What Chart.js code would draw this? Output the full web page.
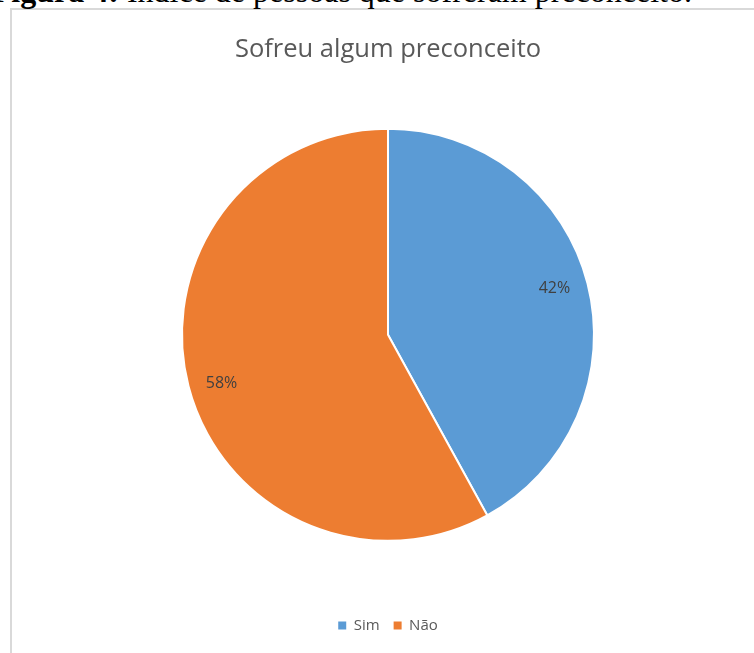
<!DOCTYPE html>
<html>
<head>
<meta charset="utf-8">
<script src="https://cdn.jsdelivr.net/npm/chart.js@4"></script>
<style>
  html, body { margin: 0; padding: 0; background: #fff; overflow: hidden; width: 754px; height: 653px; }
  #caption {
    position: absolute; right: 62px; top: -25px; white-space: nowrap; line-height: 32px;
    font-family: "Liberation Serif", "DejaVu Serif", serif; font-size: 32px; color: #000;
  }
  #frame {
    position: absolute; left: 10px; top: 8px; width: 760px; height: 660px;
    border-left: 2px solid #d9d9d9; border-top: 2px solid #d9d9d9; background: #fff;
  }
  #wrap { position: absolute; left: 12px; top: 10px; width: 752px; height: 643px; }
</style>
</head>
<body>
<div id="frame"></div>
<div id="caption"><b>Figura 4:</b> Índice de pessoas que sofreram preconceito.</div>
<div id="wrap"><canvas id="pieChart"></canvas></div>
<script>
// Chart data
const categories = ['Sim', 'Não'];
const shares = [42, 58];
const sliceColors = ['#5b9bd5', '#ed7d31'];
const chartTitle = 'Sofreu algum preconceito';

const fontFamily = '"Open Sans", Calibri, sans-serif';

// Draws the percentage labels inside each slice
const sliceLabels = {
    id: 'sliceLabels',
    afterDatasetsDraw(chart) {
        const ctx = chart.ctx;
        const meta = chart.getDatasetMeta(0);
        ctx.save();
        ctx.font = '16px ' + fontFamily;
        ctx.fillStyle = '#404040';
        ctx.textAlign = 'center';
        ctx.textBaseline = 'middle';
        meta.data.forEach((arc, i) => {
            const p = arc.getProps(['x', 'y', 'startAngle', 'endAngle', 'outerRadius'], true);
            const mid = (p.startAngle + p.endAngle) / 2 - 0.025;
            const r = p.outerRadius * 0.84;
            ctx.fillText(shares[i] + '%', p.x + Math.cos(mid) * r, p.y + Math.sin(mid) * r + 1);
        });
        ctx.restore();
    }
};

document.addEventListener('DOMContentLoaded', function() {
    new Chart(document.getElementById('pieChart'), {
        type: 'pie',
        data: {
            labels: categories,
            datasets: [{
                data: shares,
                backgroundColor: sliceColors,
                borderColor: '#ffffff',
                borderWidth: 2,
                radius: 206
            }]
        },
        options: {
            responsive: true,
            maintainAspectRatio: false,
            animation: false,
            layout: { padding: { top: 0, bottom: 10, left: 0, right: 0 } },
            plugins: {
                title: {
                    display: true,
                    text: chartTitle,
                    color: '#595959',
                    font: { size: 25.5, family: fontFamily, weight: 'normal' },
                    padding: { top: 24, bottom: 1 }
                },
                legend: {
                    position: 'bottom',
                    labels: {
                        color: '#595959',
                        font: { size: 15, family: fontFamily },
                        boxWidth: 8,
                        boxHeight: 8,
                        padding: 14,
                        generateLabels: chart =>
                            Chart.overrides.pie.plugins.legend.labels.generateLabels(chart)
                                .map(l => ({ ...l, lineWidth: 0 }))
                    }
                },
                tooltip: { enabled: false }
            }
        },
        plugins: [sliceLabels]
    });
});
</script>
</body>
</html>
